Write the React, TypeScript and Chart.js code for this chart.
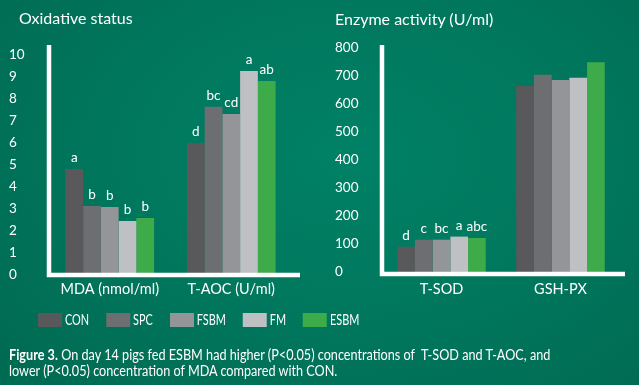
import React, { useEffect, useRef } from "react";
import { Chart, registerables } from "chart.js";

Chart.register(...registerables);

const treatments = ["CON", "SPC", "FSBM", "FM", "ESBM"];
const treatmentColors = ["#59595b", "#6d6e71", "#939598", "#bfc0c4", "#3dab49"];

const oxCategories = ["MDA (nmol/ml)", "T-AOC (U/ml)"];
const mdaValues = [4.82, 3.14, 3.09, 2.45, 2.59];
const taocValues = [6.0, 7.64, 7.32, 9.27, 8.82];
const mdaLetters = ["a", "b", "b", "b", "b"];
const taocLetters = ["d", "bc", "cd", "a", "ab"];
const oxTicks = [0, 1, 2, 3, 4, 5, 6, 7, 8, 9, 10];

const enzCategories = ["T-SOD", "GSH-PX"];
const tsodValues = [90, 115, 115, 126, 121];
const gshpxValues = [663, 702, 683, 691, 747];
const tsodLetters = ["d", "c", "bc", "a", "abc"];
const gshpxLetters = ["", "", "", "", ""];
const enzTicks = [0, 100, 200, 300, 400, 500, 600, 700, 800];

const FONT = "Lato, 'Open Sans', sans-serif";

const axisLinesPlugin = {
  id: "axisLines",
  afterDatasetsDraw(chart: any, _args: any, opts: any) {
    const { ctx, chartArea } = chart;
    ctx.save();
    ctx.strokeStyle = "#ffffff";
    ctx.lineWidth = opts.width ?? 4.5;
    ctx.lineJoin = "miter";
    ctx.lineCap = "butt";
    ctx.beginPath();
    ctx.moveTo(chartArea.left, chartArea.top);
    ctx.lineTo(chartArea.left, chartArea.bottom + (opts.offset ?? 0));
    ctx.lineTo(chartArea.right + (opts.extend ?? 0), chartArea.bottom + (opts.offset ?? 0));
    ctx.stroke();
    ctx.restore();
  },
};

const letterPlugin = {
  id: "letters",
  afterDatasetsDraw(chart: any) {
    const { ctx } = chart;
    ctx.save();
    ctx.fillStyle = "#ffffff";
    ctx.font = `13.5px ${FONT}`;
    ctx.textAlign = "center";
    ctx.textBaseline = "alphabetic";
    chart.data.datasets.forEach((ds: any, di: number) => {
      const meta = chart.getDatasetMeta(di);
      meta.data.forEach((bar: any, i: number) => {
        const t = ds.letters?.[i];
        if (t) ctx.fillText(t, bar.x, bar.y - 7);
      });
    });
    ctx.restore();
  },
};

function makeConfig(
  categories: string[],
  seriesA: number[],
  seriesB: number[],
  lettersA: string[],
  lettersB: string[],
  ticks: number[],
  yMax: number,
  opts: { padLeft: number; padRight: number; yWidth: number; xHeight: number; xPad: number; catPct: number; lineOffset: number; extend: number }
): any {
  return {
    type: "bar",
    data: {
      labels: categories,
      datasets: treatments.map((name, i) => ({
        label: name,
        data: [seriesA[i], seriesB[i]],
        letters: [lettersA[i], lettersB[i]],
        backgroundColor: treatmentColors[i],
        borderWidth: 0,
        barPercentage: 1.0,
        categoryPercentage: opts.catPct,
      })),
    },
    options: {
      responsive: false,
      animation: false,
      maintainAspectRatio: false,
      layout: { padding: { left: opts.padLeft, right: opts.padRight, top: 45, bottom: 0 } },
      plugins: {
        legend: { display: false },
        tooltip: { enabled: false },
        title: { display: false },
        axisLines: { width: 4.5, offset: opts.lineOffset, extend: opts.extend },
      },
      scales: {
        x: {
          grid: { display: false, drawTicks: false },
          border: { display: false },
          ticks: { color: "#ffffff", font: { family: FONT, size: 14.5 }, padding: opts.xPad },
          afterFit: (s: any) => {
            s.height = opts.xHeight;
          },
        },
        y: {
          min: 0,
          max: yMax,
          grid: { display: false, drawTicks: false },
          border: { display: false },
          ticks: { color: "#ffffff", font: { family: FONT, size: 13.5 }, crossAlign: "far", padding: 0 },
          afterBuildTicks: (s: any) => {
            s.ticks = ticks.map((v) => ({ value: v }));
          },
          afterFit: (s: any) => {
            s.width = opts.yWidth;
          },
        },
      },
    },
    plugins: [axisLinesPlugin, letterPlugin],
  };
}

function BarChart({ config, style }: { config: any; style: React.CSSProperties }) {
  const ref = useRef<HTMLCanvasElement | null>(null);
  useEffect(() => {
    if (!ref.current) return;
    const chart = new Chart(ref.current, config);
    return () => chart.destroy();
  }, []);
  return <canvas ref={ref} width={style.width as number} height={style.height as number} style={{ position: "absolute", ...style }} />;
}

export default function App() {
  const leftConfig = makeConfig(oxCategories, mdaValues, taocValues, mdaLetters, taocLetters, oxTicks, 10.45, {
    padLeft: 9,
    padRight: 28,
    yWidth: 40,
    xHeight: 25,
    xPad: 6,
    catPct: 0.73,
    lineOffset: 0,
    extend: 8,
  });
  const rightConfig = makeConfig(enzCategories, tsodValues, gshpxValues, tsodLetters, gshpxLetters, enzTicks, 808, {
    padLeft: 15,
    padRight: 19,
    yWidth: 47,
    xHeight: 28,
    xPad: 9,
    catPct: 0.744,
    lineOffset: 2,
    extend: 5,
  });

  const textBase: React.CSSProperties = { position: "absolute", color: "#ffffff", fontFamily: FONT, whiteSpace: "nowrap" };
  const legendScale = 0.75;

  return (
    <div
      style={{
        position: "fixed",
        left: 0,
        top: 0,
        width: 639,
        height: 385,
        overflow: "hidden",
        background: "radial-gradient(ellipse 70% 80% at 55% 40%, #008166 0%, #00775d 55%, #006b53 100%)",
      }}
    >
      <div style={{ ...textBase, left: 19, top: 8, fontSize: 16, lineHeight: "20px" }}>Oxidative status</div>
      <div style={{ ...textBase, left: 335, top: 9, fontSize: 16, lineHeight: "20px" }}>Enzyme activity (U/ml)</div>
      <BarChart config={leftConfig} style={{ left: 0, top: 0, width: 320, height: 300 }} />
      <BarChart config={rightConfig} style={{ left: 320, top: 0, width: 319, height: 300 }} />
      <div
        style={{
          ...textBase,
          left: 38,
          top: 313,
          display: "flex",
          alignItems: "center",
          gap: 17 / legendScale,
          fontSize: 14.5,
          lineHeight: "14px",
          transform: `scaleX(${legendScale})`,
          transformOrigin: "left center",
        }}
      >
        {treatments.map((t, i) => (
          <div key={t} style={{ display: "flex", alignItems: "center", gap: 3 / legendScale }}>
            <span style={{ display: "inline-block", width: 24 / legendScale, height: 14, background: treatmentColors[i] }} />
            <span>{t}</span>
          </div>
        ))}
      </div>
      <div
        style={{
          ...textBase,
          left: 9,
          top: 347,
          fontSize: 14.5,
          lineHeight: "16px",
          transform: "scaleX(0.873)",
          transformOrigin: "left top",
        }}
      >
        <b>Figure 3.</b> On day 14 pigs fed ESBM had higher (P&lt;0.05) concentrations of&nbsp; T-SOD and T-AOC, and
        <br />
        lower (P&lt;0.05) concentration of MDA compared with CON.
      </div>
    </div>
  );
}
